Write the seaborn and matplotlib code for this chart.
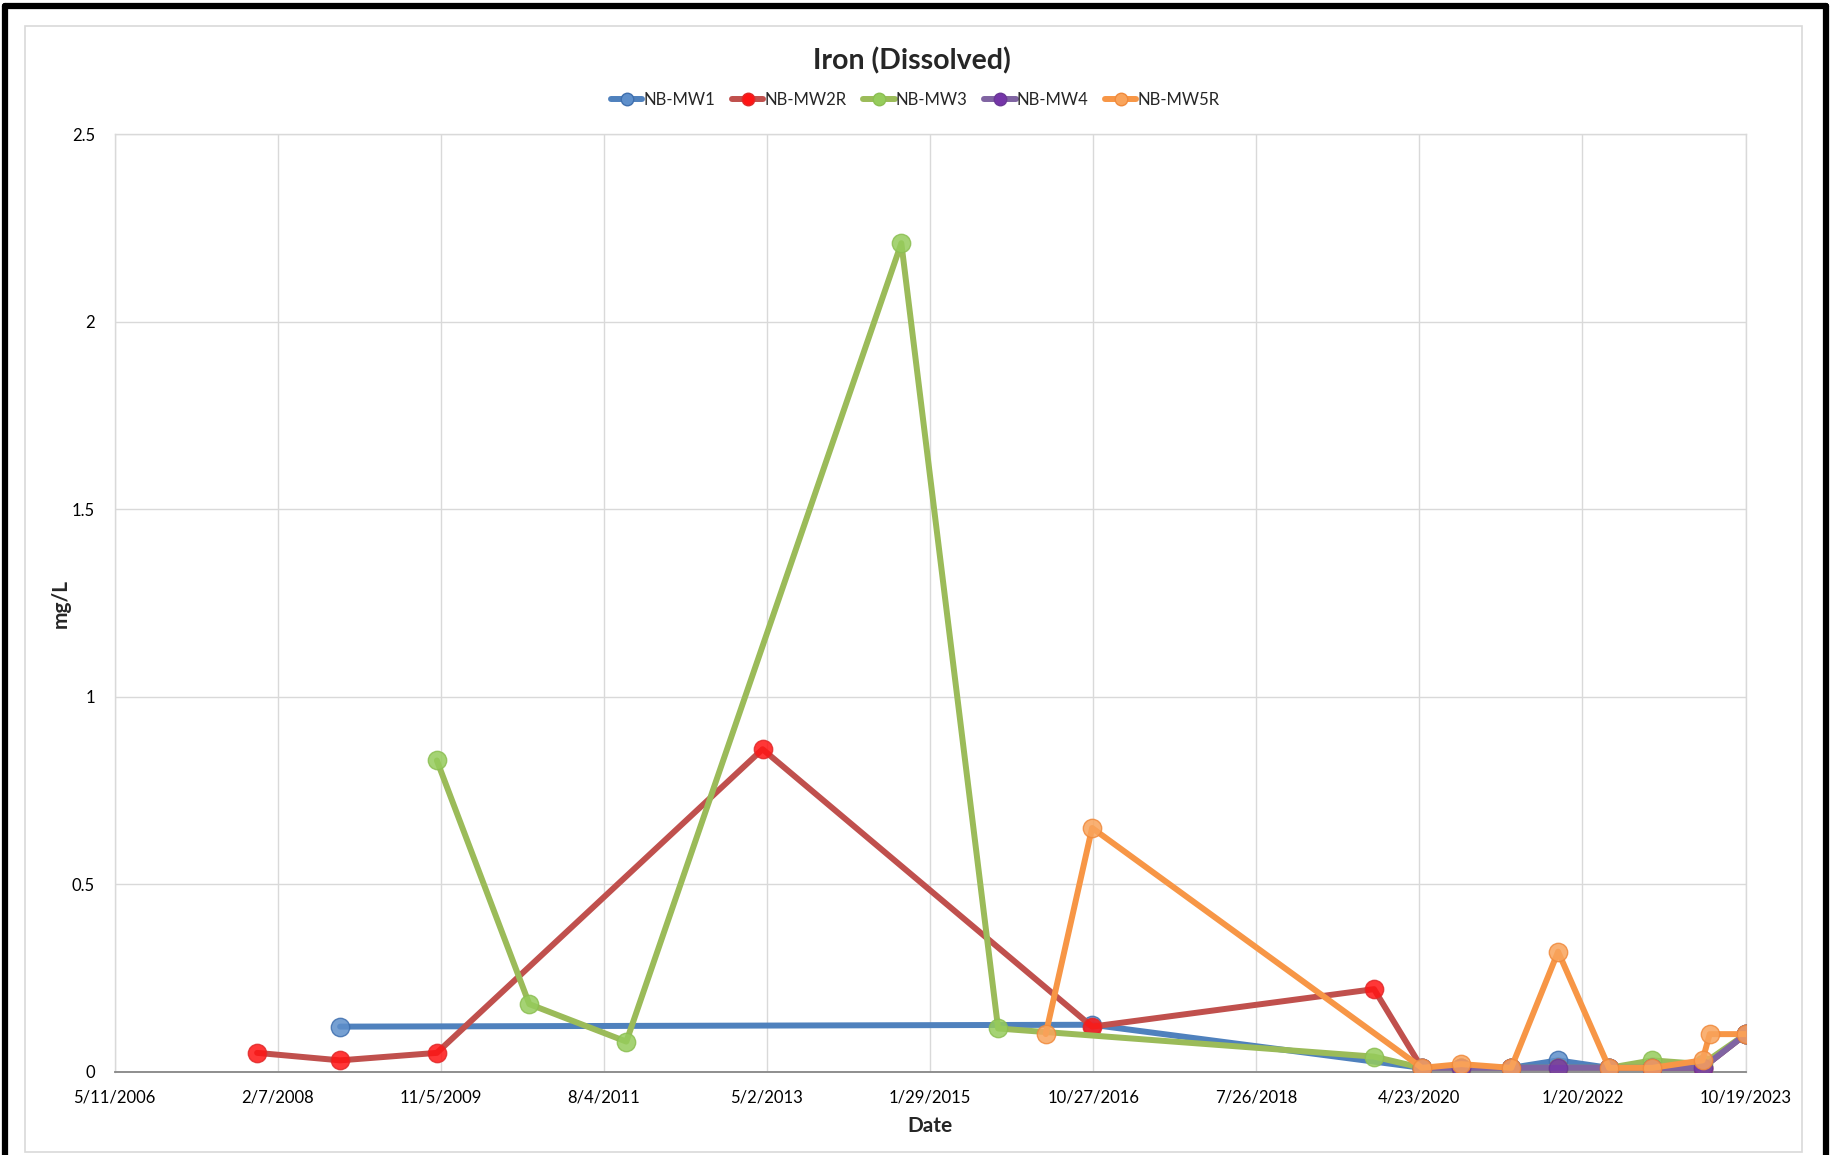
import numpy as np
import pandas as pd
import matplotlib
matplotlib.use("Agg")
import matplotlib.pyplot as plt
from matplotlib.lines import Line2D
from matplotlib.patches import Rectangle
import seaborn as sns

# ---- data -------------------------------------------------------------
series_names = ["NB-MW1", "NB-MW2R", "NB-MW3", "NB-MW4", "NB-MW5R"]

mw1_dates = ["2008-10-08", "2016-10-23", "2020-05-03", "2020-10-04", "2021-04-17",
             "2021-10-17", "2022-05-04", "2022-10-20", "2023-05-04", "2023-10-20"]
mw1_vals = [0.12, 0.125, 0.01, 0.01, 0.01, 0.03, 0.01, 0.01, 0.01, 0.1]

mw2r_dates = ["2007-11-19", "2008-10-08", "2009-10-21", "2013-04-15", "2016-10-23",
              "2019-10-29", "2020-05-03", "2020-10-04", "2021-04-17", "2021-10-17",
              "2022-05-04", "2022-10-20", "2023-05-04", "2023-10-20"]
mw2r_vals = [0.05, 0.03, 0.05, 0.86, 0.12, 0.22, 0.01, 0.01, 0.01, 0.01,
             0.01, 0.01, 0.01, 0.1]

mw3_dates = ["2009-10-21", "2010-10-17", "2011-10-31", "2014-10-09", "2015-10-22",
             "2019-10-29", "2020-05-03", "2020-10-04", "2021-04-17", "2021-10-17",
             "2022-05-04", "2022-10-20", "2023-05-04", "2023-10-20"]
mw3_vals = [0.83, 0.18, 0.08, 2.21, 0.115, 0.04, 0.01, 0.01, 0.01, 0.01,
            0.01, 0.03, 0.02, 0.1]

mw4_dates = ["2020-05-03", "2020-10-04", "2021-04-17", "2021-10-17", "2022-05-04",
             "2022-10-20", "2023-05-04", "2023-10-20"]
mw4_vals = [0.01, 0.01, 0.01, 0.01, 0.01, 0.01, 0.01, 0.1]

mw5r_dates = ["2016-04-25", "2016-10-23", "2020-05-03", "2020-10-04", "2021-04-17",
              "2021-10-17", "2022-05-04", "2022-10-20", "2023-05-04", "2023-06-01",
              "2023-10-20"]
mw5r_vals = [0.1, 0.65, 0.01, 0.02, 0.01, 0.32, 0.01, 0.01, 0.03, 0.1, 0.1]

x_tick_labels = ["5/11/2006", "2/7/2008", "11/5/2009", "8/4/2011", "5/2/2013",
                 "1/29/2015", "10/27/2016", "7/26/2018", "4/23/2020", "1/20/2022",
                 "10/19/2023"]
y_tick_values = [0, 0.5, 1, 1.5, 2, 2.5]
y_tick_labels = ["0", "0.5", "1", "1.5", "2", "2.5"]

# ---- styling ----------------------------------------------------------
line_colors = ["#4F81BD", "#C0504D", "#9BBB59", "#8064A2", "#F79646"]
marker_faces = ["#5E8FCB", "#FF1414", "#96CC5C", "#7535A8", "#F9A45C"]
marker_edges = ["#3F6FAE", "#E02A2A", "#8CBF52", "#6A3896", "#F08A3C"]

sns.set_style("white")
plt.rcParams["font.family"] = ["Lato", "DejaVu Sans"]

frames = []
for name, d, v in zip(series_names,
                      [mw1_dates, mw2r_dates, mw3_dates, mw4_dates, mw5r_dates],
                      [mw1_vals, mw2r_vals, mw3_vals, mw4_vals, mw5r_vals]):
    frames.append(pd.DataFrame({"date": pd.to_datetime(d), "value": v, "well": name}))
df = pd.concat(frames, ignore_index=True)

fig = plt.figure(figsize=(18.32, 11.55), dpi=100)
ax = fig.add_axes([0.0625, 0.0722, 0.8903, 0.8114])

for i, name in enumerate(series_names):
    sub = df[df["well"] == name]
    sns.lineplot(data=sub, x="date", y="value", ax=ax, color=line_colors[i],
                 linewidth=4.3, sort=False, estimator=None, legend=False,
                 zorder=3 + 2 * i)
    ax.scatter(sub["date"], sub["value"], s=175, color=marker_faces[i], alpha=0.85,
               edgecolors=marker_edges[i], linewidths=1.0, zorder=4 + 2 * i)

# axes limits and ticks
tick_dates = pd.to_datetime(x_tick_labels, format="%m/%d/%Y")
ax.set_xlim(tick_dates[0], tick_dates[-1])
ax.set_ylim(0, 2.5)
ax.set_xticks(tick_dates)
ax.set_xticklabels(x_tick_labels, fontsize=12)
ax.set_yticks(y_tick_values)
ax.set_yticklabels(y_tick_labels, fontsize=12)

ax.grid(True, color="#D9D9D9", linewidth=1.0, zorder=0)
ax.set_axisbelow(True)
for side in ["top", "right", "left"]:
    ax.spines[side].set_color("#D9D9D9")
    ax.spines[side].set_linewidth(1.0)
ax.spines["bottom"].set_color("#868686")
ax.spines["bottom"].set_linewidth(1.3)
ax.tick_params(axis="x", direction="out", length=6, width=1.2, color="#868686",
               pad=7, labelcolor="black")
ax.tick_params(axis="y", direction="out", length=6, width=1.0, color="#D9D9D9",
               pad=8, labelcolor="black")

ax.set_xlabel("Date", fontsize=15, fontweight="bold")
ax.xaxis.set_label_coords(0.5, -0.047)
ax.set_ylabel("mg/L", fontsize=15, fontweight="bold")
ax.yaxis.set_label_coords(-0.027, 0.5)

fig.text(0.498, 0.9475, "Iron (Dissolved)", ha="center", va="center",
         fontsize=20.5, fontweight="bold")

handles = [Line2D([0], [0], color=line_colors[i], linewidth=4.3, marker="o",
                  markersize=9, markerfacecolor=marker_faces[i],
                  markeredgecolor=marker_edges[i]) for i in range(len(series_names))]
fig.legend(handles, series_names, loc="center", bbox_to_anchor=(0.4995, 0.9135),
           ncol=5, frameon=False, fontsize=12, handlelength=1.9,
           handletextpad=0.05, columnspacing=1.0)

# chart area outline and outer frame
fig.patches.append(Rectangle((25 / 1832, 1 - 1152 / 1155), (1802 - 25) / 1832,
                             (1152 - 26) / 1155, transform=fig.transFigure,
                             fill=False, edgecolor="#D9D9D9", linewidth=1.2))
frame_kw = dict(transform=fig.transFigure, color="black", linewidth=4.5)
fig.lines.append(Line2D([5 / 1832, 5 / 1832], [0, 1 - 6 / 1155], **frame_kw))
fig.lines.append(Line2D([5 / 1832, 1826 / 1832], [1 - 6 / 1155, 1 - 6 / 1155], **frame_kw))
fig.lines.append(Line2D([1826 / 1832, 1826 / 1832], [0, 1 - 6 / 1155], **frame_kw))

fig.savefig("out.png", dpi=100, facecolor="white")
